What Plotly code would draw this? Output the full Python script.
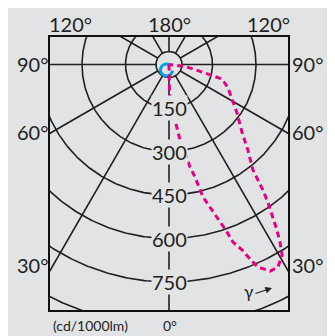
import numpy as np
import plotly.graph_objects as go

# ---- data ----
# intensity rings (cd/1000lm) and spoke angles (deg)
ring_values = [150, 300, 450, 600, 750, 900]
ring_labels = ["150", "300", "450", "600", "750"]
spoke_angles = [0, 30, 60, 90, 120, 150, 180, 210, 240, 270, 300, 330]
inner_radius = 45

# magenta dashed curve: gamma (deg, + = right side) and intensity (cd/1000lm)
pink_gamma = [0, 1.0, 6.2, 8.3, 11.6, 13.0, 14.4, 16.5, 17.9, 19.1, 19.8, 21.5, 22.6,
              23.7, 26.1, 28.3, 30.7, 32.0, 33.1, 34.1, 35.6, 36.8, 37.6, 38.5, 42.7,
              47.2, 54.5, 60.6, 68.3, 74.7, 76.3, 78.5, 82.9, 90]
pink_cd = [0, 98, 192, 263, 361, 398, 472, 523, 571, 611, 651, 687, 726,
           763, 793, 793, 764, 722, 681, 639, 587, 541, 503, 465, 401,
           343, 288, 249, 219, 190, 146, 95, 56, 0]

# cyan solid curve
blue_gamma = [-114, -105, -90, -75, -60, -45, -30, -15, 0, 15, 30]
blue_cd = [0, 7, 17, 26, 34, 39, 41, 41, 38, 32, 24]

side_labels = ["120°", "180°", "120°", "90°", "90°", "60°", "60°", "30°", "30°", "0°"]
unit_label = "(cd/1000lm)"

# ---- geometry helpers (window pixels; page body has an 8px margin) ----
OFF = 8
W, H = 327, 328
ML, MR, MT, MB = 42, 47, 29, 26
PW, PH = W - ML - MR, H - MT - MB
CX, CY = 169.0, 64.5           # pole position in window pixels
SCALE = 150 / 43.5             # cd per pixel


def px(xw, yw):
    return (xw - CX) * SCALE, -(yw - CY) * SCALE


def paper(xw, yw):
    return (xw - OFF - ML) / PW, (H - MB - (yw - OFF)) / PH


def polar_xy(g_deg, r):
    g = np.radians(np.asarray(g_deg, dtype=float))
    r = np.asarray(r, dtype=float)
    return r * np.sin(g), -r * np.cos(g)


x0, y1 = px(ML + OFF, MT + OFF)
x1, y0 = px(W - MR + OFF, H - MB + OFF)

GRID = "#231f20"
BG = "#e2e3e5"
FONT = "Lato, 'Open Sans', sans-serif"
LW = 1.6

fig = go.Figure()

t = np.linspace(0, 360, 721)
for rv in ring_values:
    xs, ys = polar_xy(t, np.full_like(t, rv))
    fig.add_trace(go.Scatter(x=xs, y=ys, mode="lines",
                             line=dict(color=GRID, width=LW), hoverinfo="skip"))
xs, ys = polar_xy(t, np.full_like(t, inner_radius))
fig.add_trace(go.Scatter(x=xs, y=ys, mode="lines",
                         line=dict(color=GRID, width=LW), hoverinfo="skip"))

for a in spoke_angles:
    xs, ys = polar_xy([a, a], [inner_radius, 1400])
    fig.add_trace(go.Scatter(x=xs, y=ys, mode="lines",
                             line=dict(color=GRID, width=LW), hoverinfo="skip"))

bx, by = polar_xy(blue_gamma, blue_cd)
fig.add_trace(go.Scatter(x=bx, y=by, mode="lines",
                         line=dict(color="#00a0e4", width=3, shape="spline"),
                         hoverinfo="skip"))

pxs, pys = polar_xy(pink_gamma, pink_cd)
fig.add_trace(go.Scatter(x=pxs, y=pys, mode="lines",
                         line=dict(color="#e6007e", width=3, dash="6px,4px"),
                         hoverinfo="skip"))

annotations = []
for rv, lab in zip(ring_values, ring_labels):
    annotations.append(dict(x=0, y=-rv, xref="x", yref="y", text=lab, showarrow=False,
                            font=dict(family=FONT, size=20, color=GRID),
                            bgcolor=BG, borderpad=0, xanchor="center", yanchor="middle"))

label_pos = [(70, 24), (169, 24), (268, 24), (33, 64), (308, 64),
             (33, 132), (308, 132), (33, 265), (308, 265)]
for (xw, yw), lab in zip(label_pos, side_labels[:9]):
    xp_, yp_ = paper(xw, yw)
    annotations.append(dict(x=xp_, y=yp_, xref="paper", yref="paper", text=lab,
                            showarrow=False, font=dict(family=FONT, size=20, color=GRID),
                            xanchor="center", yanchor="middle"))

for (xw, yw), lab in [((170, 325), side_labels[9]), ((90, 325), unit_label)]:
    xp_, yp_ = paper(xw, yw)
    annotations.append(dict(x=xp_, y=yp_, xref="paper", yref="paper", text=lab,
                            showarrow=False, font=dict(family=FONT, size=14, color=GRID),
                            xanchor="center", yanchor="middle"))

gx, gy = px(248, 291)
annotations.append(dict(x=gx, y=gy, xref="x", yref="y", text="γ", showarrow=False,
                        font=dict(family=FONT, size=17, color=GRID),
                        xanchor="center", yanchor="middle"))
hx, hy = px(272, 288)
annotations.append(dict(x=hx, y=hy, xref="x", yref="y", text="", showarrow=True,
                        ax=-18, ay=6, arrowhead=2, arrowsize=1.1, arrowwidth=1.2,
                        arrowcolor=GRID))

fig.update_layout(
    width=W, height=H,
    margin=dict(l=ML, r=MR, t=MT, b=MB, pad=0),
    paper_bgcolor=BG, plot_bgcolor=BG,
    showlegend=False,
    xaxis=dict(range=[x0, x1], showgrid=False, zeroline=False, showticklabels=False,
               ticks="", showline=True, mirror=True, linecolor="#111", linewidth=2,
               fixedrange=True),
    yaxis=dict(range=[y0, y1], showgrid=False, zeroline=False, showticklabels=False,
               ticks="", showline=True, mirror=True, linecolor="#111", linewidth=2,
               fixedrange=True),
    annotations=annotations,
)

fig.write_html("out.html")
